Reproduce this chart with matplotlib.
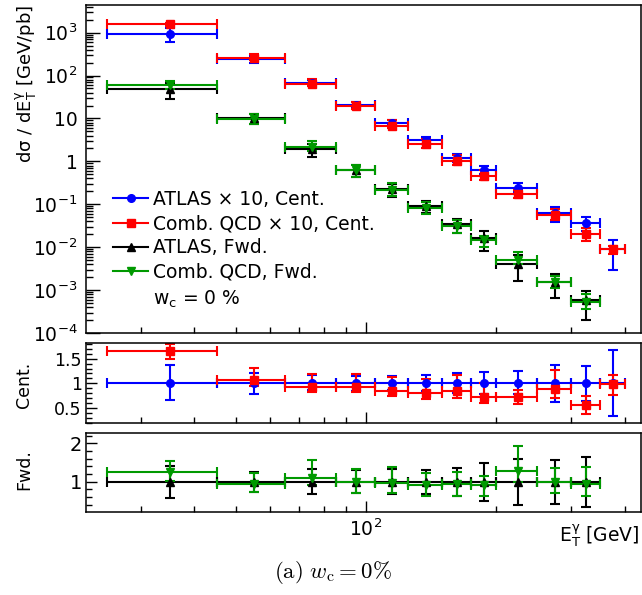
import numpy as np
import matplotlib
matplotlib.use('Agg')
import matplotlib.pyplot as plt
from matplotlib.lines import Line2D
from matplotlib.ticker import FixedLocator, NullFormatter, FuncFormatter, MultipleLocator, LogLocator

plt.rcParams['font.family'] = ['DejaVu Sans']
plt.rcParams['mathtext.fontset'] = 'dejavusans'
plt.rcParams['axes.linewidth'] = 1.1

# bin edges in E_T [GeV]
edges_cent = [25, 45, 65, 85, 105, 125, 150, 175, 200, 250, 300, 350, 400]
edges_fwd = [25, 45, 65, 85, 105, 125, 150, 175, 200, 250, 300, 350]

cent_scale = 10  # central values are drawn x 10

# central rapidity: ATLAS data and combined QCD prediction
atlas_cent = [93, 24.3, 6.8, 2.06, 0.80, 0.31, 0.12, 0.064, 0.0245, 0.0062, 0.0037, 0.0009]
atlas_cent_up = [0.37, 0.20, 0.16, 0.15, 0.14, 0.17, 0.22, 0.24, 0.26, 0.38, 0.36, 0.67]
atlas_cent_dn = [0.34, 0.21, 0.14, 0.15, 0.14, 0.16, 0.19, 0.21, 0.21, 0.38, 0.36, 0.67]
qcd_cent = [155, 26.0, 6.32, 1.90, 0.68, 0.248, 0.102, 0.046, 0.0176, 0.0055, 0.00204, 0.00089]
qcd_cent_up = [0.08, 0.22, 0.29, 0.30, 0.33, 0.36, 0.38, 0.39, 0.20, 0.44, 0.36, 0.18]
qcd_cent_dn = [0.10, 0.11, 0.11, 0.11, 0.14, 0.16, 0.18, 0.18, 0.19, 0.20, 0.31, 0.24]

# forward rapidity
atlas_fwd = [48, 10.2, 1.9, 0.63, 0.225, 0.092, 0.034, 0.016, 0.0040, 0.00155, 0.00058]
atlas_fwd_up = [0.42, 0.26, 0.32, 0.30, 0.33, 0.31, 0.36, 0.50, 0.60, 0.57, 0.65]
atlas_fwd_dn = [0.42, 0.26, 0.32, 0.30, 0.33, 0.31, 0.36, 0.50, 0.60, 0.57, 0.65]
qcd_fwd = [60.5, 9.49, 2.11, 0.63, 0.2205, 0.0837, 0.0316, 0.01456, 0.00512, 0.00155, 0.00054]
qcd_fwd_up = [0.23, 0.33, 0.40, 0.33, 0.42, 0.34, 0.35, 0.27, 0.52, 0.37, 0.49]
qcd_fwd_dn = [0.20, 0.20, 0.18, 0.30, 0.29, 0.31, 0.32, 0.32, 0.22, 0.29, 0.32]

legend_labels = [u'ATLAS \u00d7 10, Cent.', u'Comb. QCD \u00d7 10, Cent.',
                 'ATLAS, Fwd.', 'Comb. QCD, Fwd.']

BLUE, RED, BLACK, GREEN = '#0000ff', '#ff0000', '#000000', '#009900'


def draw(ax, edges, y, up, dn, color, marker, ms):
    """error bars with horizontal bin widths and end caps, ROOT style."""
    lo = np.array(edges[:-1], float)
    hi = np.array(edges[1:], float)
    x = (lo + hi) / 2
    y = np.asarray(y, float)
    yerr = [y * np.asarray(dn), y * np.asarray(up)]
    ax.errorbar(x, y, xerr=[x - lo, hi - x], yerr=yerr, fmt=marker, color=color,
                mec=color, mfc=color, ms=ms, elinewidth=1.5, capsize=3.5, capthick=1.5)


def style_x(ax, labels=False):
    ax.set_xscale('log')
    ax.set_xlim(22.4, 435)
    ax.xaxis.set_major_locator(FixedLocator([100]))
    ax.xaxis.set_minor_locator(FixedLocator([30, 40, 50, 60, 70, 80, 90, 200, 300, 400]))
    ax.xaxis.set_minor_formatter(NullFormatter())
    if labels:
        ax.xaxis.set_major_formatter(FuncFormatter(lambda v, p: r'$10^{2}$'))
    else:
        ax.xaxis.set_major_formatter(NullFormatter())
    ax.tick_params(which='both', direction='in', top=False, right=False, width=1)
    ax.tick_params(which='major', length=8, pad=5, labelsize=13.5)
    ax.tick_params(which='minor', length=4)


fig = plt.figure(figsize=(6.42, 5.95), dpi=100)
left, width = 86 / 642, 555 / 642
ax_main = fig.add_axes([left, 1 - 333 / 595, width, 328 / 595])
ax_cent = fig.add_axes([left, 1 - 423.3 / 595, width, 80 / 595])
ax_fwd = fig.add_axes([left, 1 - 512 / 595, width, 79.3 / 595])

# main panel
draw(ax_main, edges_cent, np.array(atlas_cent) * cent_scale, atlas_cent_up, atlas_cent_dn, BLUE, 'o', 5.5)
draw(ax_main, edges_cent, np.array(qcd_cent) * cent_scale, qcd_cent_up, qcd_cent_dn, RED, 's', 5.5)
draw(ax_main, edges_fwd, atlas_fwd, atlas_fwd_up, atlas_fwd_dn, BLACK, '^', 5.5)
draw(ax_main, edges_fwd, qcd_fwd, qcd_fwd_up, qcd_fwd_dn, GREEN, 'v', 5.5)

ax_main.set_yscale('log')
ax_main.set_ylim(1e-4, 4.4e3)
ax_main.yaxis.set_major_locator(LogLocator(base=10, numticks=20))
ax_main.yaxis.set_minor_locator(LogLocator(base=10, subs=np.arange(2, 10), numticks=20))
ax_main.yaxis.set_minor_formatter(NullFormatter())


def log_label(v, p):
    n = int(round(np.log10(v)))
    if n == 0:
        return '1'
    if n == 1:
        return '10'
    return r'$10^{%d}$' % n


ax_main.yaxis.set_major_formatter(FuncFormatter(log_label))
style_x(ax_main)
ax_main.tick_params(axis='y', which='major', length=10, pad=6)
ax_main.tick_params(axis='y', which='minor', length=5)

handles = [Line2D([], [], color=BLUE, marker='o', ms=5.5, lw=1.5),
           Line2D([], [], color=RED, marker='s', ms=5.5, lw=1.5),
           Line2D([], [], color=BLACK, marker='^', ms=5.5, lw=1.5),
           Line2D([], [], color=GREEN, marker='v', ms=5.5, lw=1.5)]
ax_main.legend(handles, legend_labels, loc='center left', bbox_to_anchor=(0.0486, 0.2966),
               frameon=False, fontsize=13.5, handlelength=1.87, handletextpad=0.27,
               borderpad=0, borderaxespad=0, labelspacing=0.28)
ax_main.text(0.1207, 0.1015, r'w$_{\mathrm{c}}$ = 0 %', transform=ax_main.transAxes,
             fontsize=13.5, va='center', ha='left')

# central ratio panel
ratio_c = np.array(qcd_cent) / np.array(atlas_cent)
draw(ax_cent, edges_cent, np.ones(len(atlas_cent)), atlas_cent_up, atlas_cent_dn, BLUE, 'o', 5.5)
draw(ax_cent, edges_cent, ratio_c, qcd_cent_up, qcd_cent_dn, RED, 's', 5.5)
ax_cent.set_ylim(0.184, 1.816)
ax_cent.set_yticks([0.5, 1, 1.5])
ax_cent.set_yticklabels(['0.5', '1', '1.5'])
ax_cent.yaxis.set_minor_locator(MultipleLocator(0.1))
style_x(ax_cent)
ax_cent.tick_params(axis='y', which='major', labelsize=12.5, pad=3)

# forward ratio panel
ratio_f = np.array(qcd_fwd) / np.array(atlas_fwd)
draw(ax_fwd, edges_fwd, np.ones(len(atlas_fwd)), atlas_fwd_up, atlas_fwd_dn, BLACK, '^', 5.5)
draw(ax_fwd, edges_fwd, ratio_f, qcd_fwd_up, qcd_fwd_dn, GREEN, 'v', 5.5)
ax_fwd.set_ylim(0.21, 2.28)
ax_fwd.set_yticks([1, 2])
ax_fwd.set_yticklabels(['1', '2'])
ax_fwd.yaxis.set_minor_locator(MultipleLocator(0.2))
style_x(ax_fwd, labels=True)
ax_fwd.tick_params(axis='y', which='major', labelsize=14, pad=3)

# axis titles, ROOT places them by hand
fig.text(26 / 642, 1 - 5 / 595, u'd\u03c3 / dE$_{\\mathrm{T}}^{\\mathrm{\\gamma}}$ [GeV/pb]',
         rotation=90, fontsize=13, ha='center', va='top')
fig.text(24 / 642, 1 - 385 / 595, 'Cent.', rotation=90, fontsize=12.5, ha='center', va='center')
fig.text(24 / 642, 1 - 470 / 595, 'Fwd.', rotation=90, fontsize=12.5, ha='center', va='center')
fig.text(640 / 642, 1 - 536 / 595, r'E$_{\mathrm{T}}^{\mathrm{\gamma}}$ [GeV]', fontsize=13.5,
         ha='right', va='center')
fig.text(333 / 642, 1 - 573 / 595, r'$\mathrm{(a)}\ w_{\mathrm{c}} = 0\%$', fontsize=16.5,
         ha='center', va='center', math_fontfamily='cm')

fig.savefig('out.png', dpi=100)
